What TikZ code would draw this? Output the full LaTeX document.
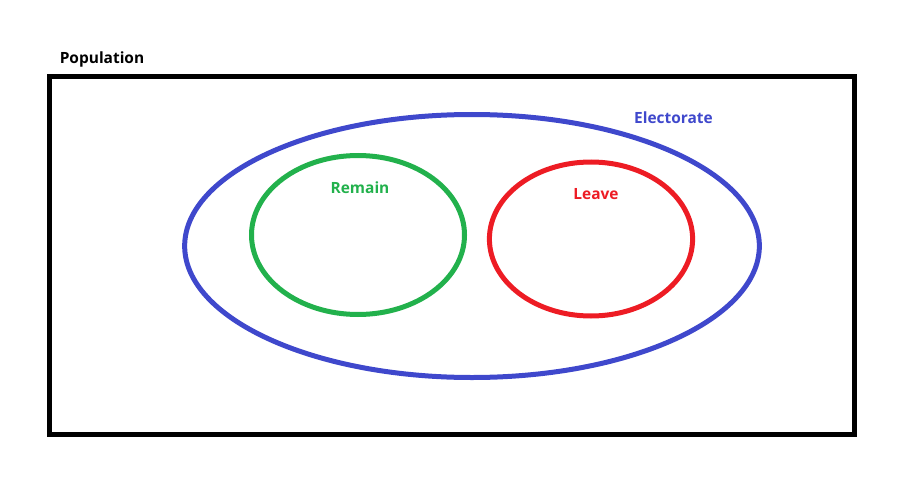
\documentclass[tikz,border=0pt]{standalone}
\usepackage{fontspec}
\setmainfont{Open Sans}
\usetikzlibrary{positioning}
\usetikzlibrary{shapes.geometric}

\definecolor{setblue}{RGB}{63,72,204}
\definecolor{setgreen}{RGB}{34,177,76}
\definecolor{setred}{RGB}{237,28,36}

\begin{document}
\begin{tikzpicture}[x=0.75pt,y=-0.75pt,
    set/.style={draw,ellipse,line width=3.75pt,inner sep=0pt},
    setlabel/.style={font=\fontsize{11.6}{13}\selectfont\bfseries,anchor=base,inner sep=0pt}]
    \useasboundingbox (0,0) rectangle (912,481);
    \draw[line width=3.75pt] (49.8,76.5) rectangle (854.2,434.2);
    \node[setlabel,anchor=base west] (population) at (59.5,64) {Population};
    % the three sets
    \node[set,setblue,minimum width=431pt,minimum height=197.25pt] (electorate) at (472,246) {};
    \node[set,setgreen,minimum width=159.75pt,minimum height=119.25pt] (remain) at (358,235) {};
    \node[set,setred,minimum width=152.4pt,minimum height=115.5pt] (leave) at (591,239) {};
    \node[setlabel,text=setblue] (electoratelabel) at (673.5,123) {Electorate};
    \node[setlabel,text=setgreen] (remainlabel) at (360,193) {Remain};
    \node[setlabel,text=setred] (leavelabel) at (596,199) {Leave};
\end{tikzpicture}
\end{document}
